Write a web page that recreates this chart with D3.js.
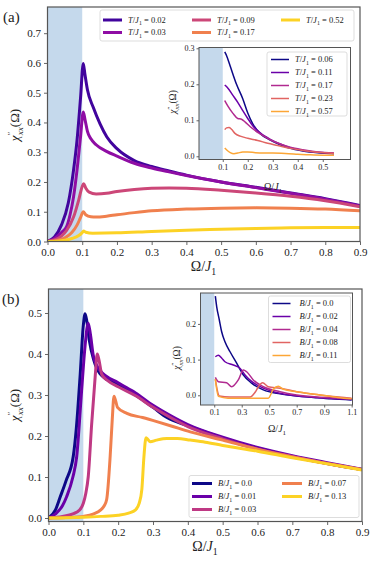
<!DOCTYPE html>
<html>
<head>
<meta charset="utf-8">
<script src="https://cdn.jsdelivr.net/npm/d3@7"></script>
<style>
  body { margin: 0; background: #fff; }
  svg { display: block; }
  svg text { font-family: 'Liberation Serif', 'DejaVu Serif', serif; }
</style>
</head>
<body>
<script>

// ---------- panel (a): temperature ----------
var labelsA = ["0.02", "0.03", "0.09", "0.17", "0.52"];
var a_T002 = [[0,0],[0.02,0.015],[0.04,0.055],[0.06,0.13],[0.075,0.24],[0.085,0.34],[0.095,0.48],[0.103,0.598],
  [0.108,0.56],[0.115,0.51],[0.132,0.45],[0.151,0.396],[0.171,0.351],[0.2,0.312],[0.25,0.272],[0.3,0.252],
  [0.35,0.237],[0.4,0.223],[0.5,0.2],[0.6,0.182],[0.7,0.163],[0.8,0.144],[0.9,0.121]];
var a_T003 = [[0,0],[0.02,0.01],[0.04,0.03],[0.055,0.05],[0.065,0.09],[0.075,0.15],[0.085,0.24],[0.095,0.35],
  [0.103,0.435],[0.108,0.41],[0.115,0.37],[0.125,0.345],[0.14,0.325],[0.17,0.303],[0.2,0.287],[0.25,0.263],
  [0.3,0.247],[0.35,0.234],[0.4,0.222],[0.5,0.2],[0.6,0.181],[0.7,0.162],[0.8,0.142],[0.9,0.119]];
var a_T009 = [[0,0],[0.02,0.005],[0.04,0.018],[0.055,0.037],[0.075,0.082],[0.09,0.14],[0.1,0.185],[0.104,0.194],
  [0.11,0.18],[0.12,0.166],[0.14,0.16],[0.17,0.162],[0.2,0.168],[0.25,0.175],[0.3,0.179],[0.35,0.18],
  [0.4,0.179],[0.5,0.172],[0.6,0.163],[0.7,0.152],[0.8,0.137],[0.9,0.117]];
var a_T017 = [[0,0],[0.03,0.004],[0.05,0.012],[0.07,0.03],[0.085,0.055],[0.095,0.08],[0.103,0.1],[0.11,0.09],
  [0.125,0.083],[0.14,0.082],[0.17,0.085],[0.2,0.09],[0.25,0.097],[0.3,0.103],[0.4,0.109],[0.5,0.112],
  [0.6,0.113],[0.7,0.112],[0.8,0.109],[0.9,0.103]];
var a_T052 = [[0,0],[0.03,0.001],[0.05,0.004],[0.07,0.01],[0.09,0.02],[0.1,0.03],[0.104,0.035],[0.11,0.031],
  [0.13,0.028],[0.2,0.029],[0.3,0.034],[0.4,0.038],[0.5,0.041],[0.6,0.044],[0.7,0.046],[0.8,0.047],[0.9,0.047]];

var labelsAin = ["0.06", "0.11", "0.17", "0.23", "0.57"];
var ain_T006 = [[0.108,0.29],[0.115,0.28],[0.13,0.25],[0.155,0.2],[0.18,0.16],[0.2,0.12],[0.22,0.09],[0.25,0.063],
  [0.29,0.045],[0.33,0.032],[0.37,0.022],[0.42,0.015],[0.48,0.01],[0.545,0.007]];
var ain_T011 = [[0.108,0.198],[0.12,0.19],[0.14,0.17],[0.16,0.15],[0.18,0.127],[0.2,0.105],[0.22,0.085],[0.25,0.065],
  [0.29,0.047],[0.33,0.034],[0.37,0.024],[0.42,0.016],[0.48,0.011],[0.545,0.008]];
var ain_T017 = [[0.108,0.155],[0.12,0.14],[0.14,0.12],[0.16,0.105],[0.175,0.103],[0.19,0.095],[0.21,0.082],[0.25,0.062],
  [0.29,0.046],[0.33,0.034],[0.37,0.025],[0.42,0.018],[0.48,0.012],[0.545,0.009]];
var ain_T023 = [[0.108,0.074],[0.115,0.079],[0.125,0.08],[0.135,0.075],[0.15,0.063],[0.17,0.056],[0.2,0.05],[0.24,0.044],
  [0.28,0.036],[0.32,0.03],[0.37,0.022],[0.42,0.016],[0.48,0.011],[0.545,0.008]];
var ain_T057 = [[0.108,0.023],[0.115,0.018],[0.13,0.01],[0.145,0.007],[0.16,0.009],[0.18,0.012],[0.2,0.012],[0.23,0.01],
  [0.26,0.009],[0.3,0.009],[0.35,0.008],[0.4,0.006],[0.45,0.004],[0.5,0.003],[0.545,0.003]];

// ---------- panel (b): field ----------
var labelsB = ["0.0", "0.01", "0.03", "0.07", "0.13"];
var b_B000 = [[0,0],[0.02,0.02],[0.033,0.05],[0.05,0.09],[0.071,0.15],[0.08,0.22],[0.091,0.35],[0.1,0.47],[0.105,0.498],
  [0.11,0.48],[0.117,0.434],[0.13,0.385],[0.148,0.352],[0.2,0.325],[0.244,0.303],[0.3,0.27],[0.34,0.245],[0.4,0.225],
  [0.5,0.195],[0.6,0.17],[0.7,0.15],[0.8,0.133],[0.9,0.118]];
var b_B001 = [[0,0],[0.02,0.01],[0.04,0.03],[0.052,0.052],[0.07,0.1],[0.081,0.15],[0.095,0.31],[0.105,0.42],[0.114,0.475],
  [0.12,0.45],[0.129,0.395],[0.148,0.36],[0.2,0.33],[0.25,0.305],[0.3,0.275],[0.35,0.25],[0.4,0.228],[0.5,0.197],
  [0.6,0.172],[0.7,0.152],[0.8,0.135],[0.9,0.119]];
var b_B003 = [[0,0],[0.04,0.004],[0.07,0.01],[0.09,0.02],[0.1,0.036],[0.107,0.06],[0.114,0.1],[0.124,0.23],[0.134,0.345],
  [0.14,0.4],[0.145,0.385],[0.153,0.35],[0.17,0.335],[0.2,0.32],[0.25,0.298],[0.3,0.27],[0.35,0.245],[0.4,0.223],
  [0.5,0.193],[0.6,0.168],[0.7,0.15],[0.8,0.133],[0.9,0.118]];
var b_B007 = [[0,0],[0.05,0.001],[0.1,0.004],[0.13,0.01],[0.15,0.02],[0.16,0.03],[0.167,0.045],[0.177,0.15],[0.183,0.24],
  [0.188,0.297],[0.193,0.285],[0.198,0.27],[0.225,0.255],[0.27,0.245],[0.311,0.235],[0.35,0.225],[0.407,0.21],
  [0.5,0.19],[0.6,0.168],[0.7,0.149],[0.8,0.133],[0.9,0.118]];
var b_B013 = [[0,0],[0.1,0.002],[0.15,0.004],[0.2,0.007],[0.23,0.012],[0.25,0.02],[0.26,0.035],[0.268,0.07],[0.274,0.15],
  [0.28,0.196],[0.285,0.192],[0.292,0.186],[0.31,0.19],[0.34,0.194],[0.37,0.194],[0.407,0.19],[0.45,0.185],
  [0.5,0.177],[0.6,0.163],[0.7,0.147],[0.8,0.132],[0.9,0.117]];

var labelsBin = ["0.0", "0.02", "0.04", "0.08", "0.11"];
var bin_B000 = [[0.108,0.278],[0.118,0.248],[0.137,0.211],[0.154,0.178],[0.178,0.15],[0.215,0.122],[0.263,0.09],
  [0.312,0.057],[0.372,0.034],[0.457,0.015],[0.579,0.004],[0.7,-0.002],[0.821,-0.006],[0.95,-0.01],[1.1,-0.013]];
var bin_B002 = [[0.108,0.108],[0.13,0.112],[0.155,0.104],[0.178,0.094],[0.239,0.085],[0.287,0.076],[0.324,0.057],
  [0.372,0.039],[0.457,0.02],[0.55,0.008],[0.65,0.001],[0.8,-0.005],[0.95,-0.009],[1.1,-0.012]];
var bin_B004 = [[0.108,0.05],[0.13,0.038],[0.19,0.035],[0.227,0.024],[0.275,0.043],[0.312,0.071],[0.336,0.066],
  [0.384,0.043],[0.457,0.024],[0.579,0.01],[0.7,0.001],[0.85,-0.005],[1.0,-0.008],[1.1,-0.01]];
var bin_B008 = [[0.108,0.045],[0.137,-0.002],[0.215,-0.005],[0.36,-0.005],[0.4,0.01],[0.421,0.024],[0.452,0.035],
  [0.493,0.024],[0.579,0.02],[0.7,0.01],[0.87,0.001],[1.1,-0.008]];
var bin_B011 = [[0.108,0.045],[0.13,-0.003],[0.2,-0.008],[0.35,-0.008],[0.493,-0.008],[0.53,0.017],[0.566,0.025],
  [0.603,0.017],[0.7,0.01],[0.85,0.002],[1.0,-0.006],[1.1,-0.01]];

var ticksMainX = [0, 0.1, 0.2, 0.3, 0.4, 0.5, 0.6, 0.7, 0.8, 0.9];
var ticksAY = [0, 0.1, 0.2, 0.3, 0.4, 0.5, 0.6, 0.7];
var ticksBY = [0, 0.1, 0.2, 0.3, 0.4, 0.5];
var ticksAinX = [0.1, 0.2, 0.3, 0.4, 0.5];
var ticksAinY = [0, 0.1, 0.2, 0.3];
var ticksBinX = [0.1, 0.3, 0.5, 0.7, 0.9, 1.1];
var ticksBinY = [0, 0.1, 0.2];

var serif = "'Liberation Serif', 'DejaVu Serif', serif";
var shade = "#c5d9ec";
var frameCol = "#555";

var svg = d3.select('body').append('svg')
  .attr('width', 374)
  .attr('height', 565)
  .style('font-family', serif);

var clipCount = 0;

// text with italic / sub / sup pieces
function add_math(t, parts, fs) {
  var shift = 0;
  parts.forEach(function (p) {
    var style = p[1] || '';
    var s = t.append('tspan').text(p[0]);
    var target = 0;
    if (style.indexOf('sub') >= 0) target = fs * 0.3;
    if (style.indexOf('sup') >= 0) target = -fs * 0.42;
    if (target != shift) { s.attr('dy', target - shift); shift = target; }
    if (target != 0) s.attr('font-size', fs * 0.7);
    if (style.indexOf('i') >= 0) s.attr('font-style', 'italic');
    if (p[2]) s.attr('dx', p[2]);
  });
}

function chi_label(x, y, fs) {
  var t = svg.append('text')
    .attr('transform', 'translate(' + x + ',' + y + ') rotate(-90)')
    .attr('text-anchor', 'middle')
    .attr('font-size', fs)
    .attr('fill', '#222');
  add_math(t, [['χ', 'i'], ['″', 'sup'], ['xx', 'isub', -fs * 0.28], ['(Ω)', '']], fs);
}

function omega_label(x, y, fs) {
  var t = svg.append('text')
    .attr('x', x).attr('y', y)
    .attr('text-anchor', 'middle')
    .attr('font-size', fs)
    .attr('fill', '#222');
  add_math(t, [['Ω/', ''], ['J', 'i'], ['1', 'sub']], fs);
}

function draw_axes(o) {
  var x = d3.scaleLinear().domain(o.xdom).range([o.left, o.right]);
  var y = d3.scaleLinear().domain(o.ydom).range([o.bottom, o.top]);
  var g = svg.append('g');

  g.append('rect')
    .attr('x', o.left).attr('y', o.top)
    .attr('width', o.right - o.left).attr('height', o.bottom - o.top)
    .attr('fill', '#fff');

  g.append('rect')
    .attr('x', o.left).attr('y', o.top)
    .attr('width', x(0.1) - o.left).attr('height', o.bottom - o.top)
    .attr('fill', shade);

  var id = 'clip' + (clipCount++);
  g.append('clipPath').attr('id', id)
    .append('rect')
    .attr('x', o.left).attr('y', o.top)
    .attr('width', o.right - o.left).attr('height', o.bottom - o.top);

  var line = d3.line()
    .x(function (d) { return x(d[0]); })
    .y(function (d) { return y(d[1]); })
    .curve(d3.curveMonotoneX);

  g.append('g').attr('clip-path', 'url(#' + id + ')')
    .selectAll('path')
    .data(o.series)
    .enter()
    .append('path')
    .attr('d', function (d) { return line(d); })
    .attr('fill', 'none')
    .attr('stroke', function (d, i) { return o.colors[i]; })
    .attr('stroke-width', o.lw)
    .attr('stroke-linejoin', 'round');

  var xAxis = d3.axisBottom(x).tickValues(o.xticks).tickSize(o.tick).tickPadding(o.pad)
    .tickFormat(d3.format('.1f'));
  var yAxis = d3.axisLeft(y).tickValues(o.yticks).tickSize(o.tick).tickPadding(o.pad)
    .tickFormat(d3.format('.1f'));

  var gx = g.append('g').attr('transform', 'translate(0,' + o.bottom + ')').call(xAxis);
  var gy = g.append('g').attr('transform', 'translate(' + o.left + ',0)').call(yAxis);
  [gx, gy].forEach(function (a) {
    a.attr('font-family', null).attr('font-size', null);
    a.select('.domain').remove();
    a.selectAll('line').attr('stroke', frameCol).attr('stroke-width', 0.9);
    a.selectAll('text')
      .style('font-family', serif)
      .style('font-size', o.fs + 'px')
      .attr('fill', '#222');
  });

  g.append('rect')
    .attr('x', o.left).attr('y', o.top)
    .attr('width', o.right - o.left).attr('height', o.bottom - o.top)
    .attr('fill', 'none')
    .attr('stroke', frameCol)
    .attr('stroke-width', o.frame);

  return { x: x, y: y };
}

function draw_legend(o) {
  var g = svg.append('g');
  g.append('rect')
    .attr('x', o.x).attr('y', o.y)
    .attr('width', o.w).attr('height', o.h)
    .attr('rx', 2)
    .attr('fill', '#fff')
    .attr('fill-opacity', 0.85)
    .attr('stroke', '#d4d4d4')
    .attr('stroke-width', 0.8);
  o.labels.forEach(function (lab, i) {
    var col = Math.floor(i / o.rows);
    var row = i % o.rows;
    var cx = o.x + o.pad + col * o.colw;
    var cy = o.y + o.top + row * o.rowh;
    g.append('line')
      .attr('x1', cx).attr('x2', cx + o.len)
      .attr('y1', cy).attr('y2', cy)
      .attr('stroke', o.colors[i])
      .attr('stroke-width', o.lw);
    var t = g.append('text')
      .attr('x', cx + o.len + o.gap)
      .attr('y', cy + o.fs * 0.33)
      .attr('font-size', o.fs)
      .attr('fill', '#222');
    add_math(t, [[o.sym, 'i'], ['/', ''], ['J', 'i'], ['1', 'sub'], [' = ' + lab, '']], o.fs);
  });
}

var colA = [0.1, 0.3, 0.5, 0.69, 0.91].map(d3.interpolatePlasma);
var colB = [0.0, 0.2, 0.45, 0.69, 0.91].map(d3.interpolatePlasma);
var colIn = [0.0, 0.2, 0.4, 0.6, 0.8].map(d3.interpolatePlasma);

// ---------- panel (a) ----------
draw_axes({
  left: 47.5, right: 360, top: 7, bottom: 241.5,
  xdom: [0, 0.9], ydom: [0, 0.788],
  xticks: ticksMainX, yticks: ticksAY,
  series: [a_T002, a_T003, a_T009, a_T017, a_T052], colors: colA,
  lw: 3, tick: 3.5, pad: 3, fs: 11, frame: 1.2
});
draw_legend({
  x: 100, y: 10, w: 254, h: 31, rows: 2, pad: 3, top: 10, rowh: 12.5, colw: 89,
  len: 19, gap: 6, lw: 3, fs: 8.5, sym: 'T', labels: labelsA, colors: colA
});
draw_axes({
  left: 199, right: 350.5, top: 47.5, bottom: 159.5,
  xdom: [0.005, 0.611], ydom: [-0.0089, 0.3022],
  xticks: ticksAinX, yticks: ticksAinY,
  series: [ain_T006, ain_T011, ain_T017, ain_T023, ain_T057], colors: colIn,
  lw: 1.5, tick: 2.5, pad: 2, fs: 8, frame: 1
});
draw_legend({
  x: 267, y: 52, w: 80, h: 64, rows: 5, pad: 4, top: 7.5, rowh: 13,
  colw: 0, len: 18, gap: 6, lw: 1.5, fs: 8.5, sym: 'T', labels: labelsAin, colors: colIn
});
omega_label(203.5, 271, 14);
chi_label(19, 125, 13);
omega_label(273, 190, 10);
chi_label(176, 102, 9.5);
svg.append('text').attr('x', 3).attr('y', 22).attr('font-size', 15).attr('fill', '#222').text('(a)');

// ---------- panel (b) ----------
draw_axes({
  left: 48.5, right: 362, top: 289, bottom: 521.5,
  xdom: [0, 0.9], ydom: [-0.0085, 0.5585],
  xticks: ticksMainX, yticks: ticksBY,
  series: [b_B000, b_B001, b_B003, b_B007, b_B013], colors: colB,
  lw: 3, tick: 3.5, pad: 3, fs: 11, frame: 1.2
});
draw_legend({
  x: 189, y: 475.5, w: 170, h: 42, rows: 3, pad: 3, top: 8, rowh: 13, colw: 90,
  len: 20, gap: 6, lw: 3, fs: 8.5, sym: 'B', labels: labelsB, colors: colB
});
draw_axes({
  left: 200.5, right: 352.5, top: 293, bottom: 405,
  xdom: [0, 1.106], ydom: [-0.0272, 0.2866],
  xticks: ticksBinX, yticks: ticksBinY,
  series: [bin_B000, bin_B002, bin_B004, bin_B008, bin_B011], colors: colIn,
  lw: 1.5, tick: 2.5, pad: 2, fs: 8, frame: 1
});
draw_legend({
  x: 268.5, y: 296, w: 82, h: 66.5, rows: 5, pad: 4, top: 7.5, rowh: 13,
  colw: 0, len: 18, gap: 9, lw: 1.5, fs: 8.5, sym: 'B', labels: labelsBin, colors: colIn
});
omega_label(205, 551, 14);
chi_label(19, 405, 13);
omega_label(277, 432, 10);
chi_label(180, 358, 9.5);
svg.append('text').attr('x', 2).attr('y', 304).attr('font-size', 15).attr('fill', '#222').text('(b)');

</script>
</body>
</html>
